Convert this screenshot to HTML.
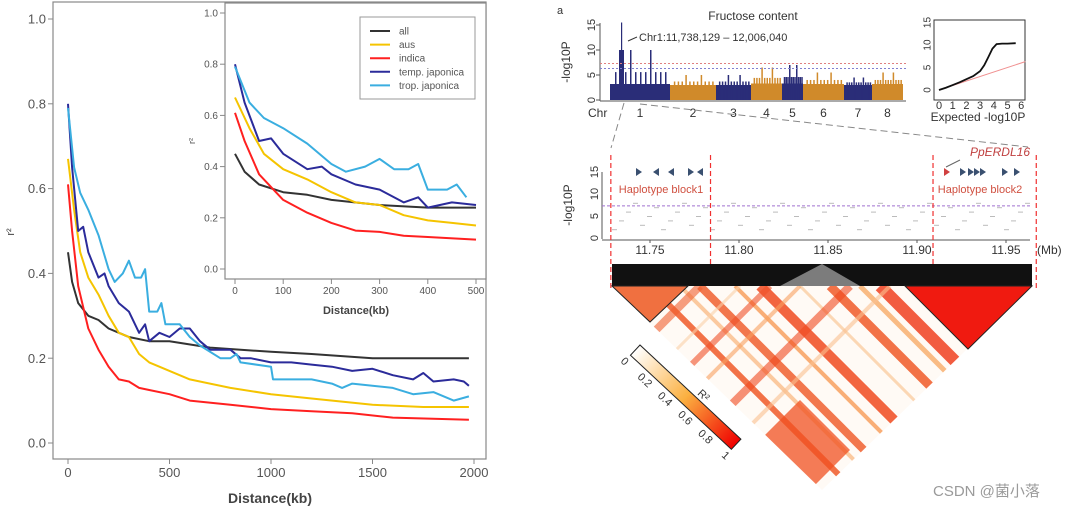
<!DOCTYPE html>
<html><head><meta charset="utf-8"><style>
html,body{margin:0;padding:0;background:#fff;width:1080px;height:507px;overflow:hidden}
svg{display:block;overflow:hidden;font-family:"Liberation Sans","Noto Sans CJK SC",sans-serif}
</style></head><body>
<svg id="fig" width="1080" height="507" viewBox="0 0 1080 507">
<defs>
<clipPath id="triclip"><polygon points="612,286 1032,286 822,490"/></clipPath>
<linearGradient id="ldg"><stop offset="0" stop-color="#fff"/><stop offset="0.5" stop-color="#fbb040"/><stop offset="1" stop-color="#f00000"/></linearGradient>
</defs>
<g id="left"></g>
<g id="right"></g>
<text x="933" y="496" font-size="15" fill="#9a9a9a">CSDN @菌小落</text>
</svg>
<script>
// ---- LD decay data ----
const seriesNames = ["all","aus","indica","temp. japonica","trop. japonica"];
const seriesColors = ["#333333","#f5c400","#ff2020","#2b2b9a","#3aaee0"];
const allX = [0,20,50,100,150,200,300,400,500,700,1000,1200,1500,1750,1975];
const allY = [0.45,0.38,0.33,0.30,0.29,0.27,0.25,0.24,0.24,0.225,0.215,0.21,0.20,0.20,0.20];
const ausX = [0,30,60,100,150,200,250,300,350,400,450,500,600,800,1000,1200,1500,1750,1975];
const ausY = [0.67,0.55,0.45,0.39,0.35,0.30,0.26,0.25,0.21,0.19,0.18,0.17,0.15,0.13,0.115,0.105,0.09,0.085,0.085];
const indX = [0,20,50,100,150,200,250,300,350,400,500,600,800,1000,1200,1400,1600,1975];
const indY = [0.61,0.50,0.37,0.27,0.22,0.18,0.15,0.145,0.13,0.125,0.115,0.10,0.09,0.08,0.075,0.07,0.06,0.055];
const tempX = [0,20,50,75,100,150,180,200,250,300,350,380,400,450,500,550,600,650,700,800,850,900,1000,1100,1200,1300,1400,1500,1600,1700,1750,1800,1900,1950,1975];
const tempY = [0.80,0.65,0.50,0.51,0.45,0.39,0.40,0.37,0.33,0.31,0.26,0.28,0.24,0.26,0.25,0.27,0.27,0.24,0.22,0.22,0.20,0.20,0.19,0.19,0.185,0.18,0.17,0.175,0.16,0.15,0.165,0.145,0.15,0.145,0.135];
const tropX = [0,30,60,100,150,200,230,270,300,330,360,380,400,440,460,480,550,600,650,750,800,830,850,1000,1010,1200,1300,1350,1400,1600,1700,1800,1900,1975];
const tropY = [0.79,0.65,0.59,0.55,0.49,0.41,0.38,0.40,0.43,0.39,0.39,0.41,0.31,0.31,0.33,0.28,0.28,0.25,0.23,0.20,0.20,0.21,0.19,0.18,0.15,0.15,0.14,0.13,0.14,0.13,0.115,0.12,0.10,0.11];
const mainXTicks = [0,500,1000,1500,2000];
const yTicks = [0.0,0.2,0.4,0.6,0.8,1.0];
const insetXTicks = [0,100,200,300,400,500];

// ---- GWAS data ----
const chrLabels = ["1","2","3","4","5","6","7","8"];
const chrWidthFrac = [60,46,35,31,21,41,28,31];
const chrBase = [3.2,3.0,3.0,3.3,3.3,3.2,3.0,3.2];
const chrPeak = [10,5,5,6.5,7,5.5,4.5,5.5];
const qqExp = [0,0.5,1,1.5,2,2.5,3,3.3,3.6,3.9,4.2,4.6,5,5.6];
const qqObs = [0,0.5,1.1,1.7,2.4,3.1,4.2,5.5,7.3,9.2,10.2,10.3,10.3,10.4];
const regTicks = [11.75,11.80,11.85,11.90,11.95];
const blockEdges = [11.728,11.784,11.909,11.967];
const ldScale = [0,0.2,0.4,0.6,0.8,1];

const NS="http://www.w3.org/2000/svg";
function mk(parent,tag,attrs,text){const e=document.createElementNS(NS,tag);for(const k in attrs)e.setAttribute(k,attrs[k]);if(text!==undefined)e.textContent=text;parent.appendChild(e);return e;}
const L=document.getElementById('left');

function drawPanel(g,box,xmin,xmax,xpix,ypix,xticks,fs,xmaxData,name){
  const sx=v=>xpix[0]+(v-xmin)/(xmax-xmin)*(xpix[1]-xpix[0]);
  const sy=v=>ypix[0]+v*(ypix[1]-ypix[0]);
  const r=mk(g,'rect',{x:box[0],y:box[1],width:box[2]-box[0],height:box[3]-box[1],fill:'#fff',stroke:'#888','stroke-width':1.2});
  
  
  yTicks.forEach(t=>{
    mk(g,'line',{x1:box[0]-5,x2:box[0],y1:sy(t),y2:sy(t),stroke:'#888'});
    const tx=mk(g,'text',{x:box[0]-7,y:sy(t)+fs*0.35,'font-size':fs,'text-anchor':'end',fill:'#555'},t.toFixed(1));
    
    
  });
  xticks.forEach(t=>{
    mk(g,'line',{x1:sx(t),x2:sx(t),y1:box[3],y2:box[3]+5,stroke:'#888'});
    const tx=mk(g,'text',{x:sx(t),y:box[3]+5+fs,'font-size':fs,'text-anchor':'middle',fill:'#555'},t);
    
    
  });
  const xs=[allX,ausX,indX,tempX,tropX], ys=[allY,ausY,indY,tempY,tropY];
  xs.forEach((X,i)=>{
    let pts=[];
    for(let j=0;j<X.length;j++){ if(X[j]<=xmaxData) pts.push(sx(X[j]).toFixed(1)+','+sy(ys[i][j]).toFixed(1)); }
    const p=mk(g,'polyline',{points:pts.join(' '),fill:'none',stroke:seriesColors[i],'stroke-width':2,'stroke-linejoin':'round'});
    
    
  });
}
drawPanel(L,[53,2,486,459],0,2000,[68,474],[443,19],mainXTicks,13,2000,'main');
let t=mk(L,'text',{x:270,y:503,'font-size':14,'font-weight':'bold','text-anchor':'middle',fill:'#444'},'Distance(kb)');

t=mk(L,'text',{x:14,y:232,'font-size':11,'text-anchor':'middle',fill:'#444',transform:'rotate(-90 14 232)'},'r²');

const IG=mk(L,'g',{});

drawPanel(IG,[225,3,486,279],0,500,[235,476],[269,13],insetXTicks,10,500,'inset');
t=mk(IG,'text',{x:356,y:314,'font-size':11,'font-weight':'bold','text-anchor':'middle',fill:'#444'},'Distance(kb)');

t=mk(IG,'text',{x:195,y:141,'font-size':9,'text-anchor':'middle',fill:'#444',transform:'rotate(-90 195 141)'},'r²');

const LG=mk(IG,'g',{});

mk(LG,'rect',{x:360,y:17,width:115,height:82,fill:'#fff',stroke:'#999'});
seriesNames.forEach((n,i)=>{
  const y=31+i*13.6;
  const e=mk(LG,'g',{});
  
  
  mk(e,'line',{x1:370,x2:390,y1:y,y2:y,stroke:seriesColors[i],'stroke-width':2});
  mk(e,'text',{x:399,y:y+3.5,'font-size':10,fill:'#555'},n);
});

// ---- Right panel ----
const R=document.getElementById('right');
t=mk(R,'text',{x:557,y:14,'font-size':11,fill:'#333'},'a');

t=mk(R,'text',{x:753,y:20,'font-size':12,'text-anchor':'middle',fill:'#333'},'Fructose content');

const M=mk(R,'g',{});
const my=v=>100-v*5;
mk(M,'line',{x1:600,x2:600,y1:23,y2:101,stroke:'#555'});
mk(M,'line',{x1:600,x2:906,y1:101,y2:101,stroke:'#555'});
[0,5,10,15].forEach(v=>{mk(M,'line',{x1:596,x2:600,y1:my(v),y2:my(v),stroke:'#555'});
 mk(M,'text',{x:591,y:my(v),'font-size':11,'text-anchor':'middle',fill:'#333',transform:`rotate(-90 591 ${my(v)})`,dy:'0.35em'},v);});
t=mk(M,'text',{x:570,y:62,'font-size':12,'text-anchor':'middle',fill:'#333',transform:'rotate(-90 570 62)'},'-log10P');

const totalW=chrWidthFrac.reduce((a,b)=>a+b,0);
let cx=610;
chrLabels.forEach((c,i)=>{
  const w=chrWidthFrac[i]/totalW*293;
  const col=i%2?'#d08a2a':'#2a2d78';
  const b=mk(M,'rect',{x:cx,y:my(chrBase[i]),width:w,height:my(0)-my(chrBase[i]),fill:col});
  
  for(let k=1;k<12;k++){const px=cx+w*k/12;const h=chrBase[i]+(chrPeak[i]-chrBase[i])*((k%4)?0.35:1);
    mk(M,'rect',{x:px,y:my(h),width:1.5,height:my(0)-my(h),fill:col});}
  mk(M,'text',{x:cx+w/2,y:117,'font-size':12,'text-anchor':'middle',fill:'#333'},c);
  cx+=w;
});
mk(M,'rect',{x:621,y:my(15.5),width:1.2,height:my(0)-my(15.5),fill:'#2a2d78'});
mk(M,'rect',{x:619,y:my(10),width:5,height:my(0)-my(10),fill:'#2a2d78'});
mk(M,'text',{x:588,y:117,'font-size':12,fill:'#333'},'Chr');
mk(M,'line',{x1:600,x2:906,y1:my(7.3),y2:my(7.3),stroke:'#e08080','stroke-dasharray':'2,2'});
mk(M,'line',{x1:600,x2:906,y1:my(6.3),y2:my(6.3),stroke:'#8080d0','stroke-dasharray':'2,2'});
mk(M,'line',{x1:637,x2:628,y1:37,y2:41,stroke:'#333'});
t=mk(M,'text',{x:639,y:41,'font-size':11,fill:'#333'},'Chr1:11,738,129 – 12,006,040');

const Q=mk(R,'g',{});
const qx=v=>939+v*13.7, qy=v=>90-v*4.5;
mk(Q,'rect',{x:934,y:20,width:91,height:80,fill:'#fff',stroke:'#333'});
[0,5,10,15].forEach(v=>mk(Q,'text',{x:927,y:qy(v),'font-size':10,'text-anchor':'middle',fill:'#333',transform:`rotate(-90 927 ${qy(v)})`,dy:'0.35em'},v));
[0,1,2,3,4,5,6].forEach(v=>mk(Q,'text',{x:qx(v),y:109,'font-size':11,'text-anchor':'middle',fill:'#333'},v));
mk(Q,'line',{x1:qx(0),y1:qy(0),x2:qx(6.3),y2:qy(6.3),stroke:'#f09090','stroke-width':1});
t=mk(Q,'polyline',{points:qqExp.map((e,i)=>qx(e)+','+qy(qqObs[i])).join(' '),fill:'none',stroke:'#111','stroke-width':1.8});

mk(Q,'text',{x:978,y:121,'font-size':12,'text-anchor':'middle',fill:'#333'},'Expected -log10P');
mk(R,'line',{x1:624,y1:103,x2:611,y2:148,stroke:'#888','stroke-dasharray':'7,4'});
mk(R,'line',{x1:640,y1:104,x2:1028,y2:147,stroke:'#888','stroke-dasharray':'7,4'});
const G=mk(R,'g',{});
const gx=v=>650+(v-11.75)/0.05*89, gy=v=>238-v*4.4;
mk(G,'line',{x1:602,x2:602,y1:172,y2:239,stroke:'#555'});
mk(G,'line',{x1:602,x2:1030,y1:240,y2:240,stroke:'#555'});
[0,5,10,15].forEach(v=>mk(G,'text',{x:594,y:gy(v),'font-size':11,'text-anchor':'middle',fill:'#333',transform:`rotate(-90 594 ${gy(v)})`,dy:'0.35em'},v));
mk(G,'text',{x:572,y:205,'font-size':12,'text-anchor':'middle',fill:'#333',transform:'rotate(-90 572 205)'},'-log10P');
regTicks.forEach(v=>{mk(G,'line',{x1:gx(v),x2:gx(v),y1:240,y2:243,stroke:'#555'});mk(G,'text',{x:gx(v),y:254,'font-size':12,'text-anchor':'middle',fill:'#333'},v.toFixed(2));});
mk(G,'text',{x:1037,y:254,'font-size':12,fill:'#333'},'(Mb)');
mk(G,'line',{x1:602,x2:1030,y1:gy(7.3),y2:gy(7.3),stroke:'#a070d0','stroke-dasharray':'3,2'});
for(let i=0;i<60;i++){const xx=612+i*7;mk(G,'rect',{x:xx,y:gy(2+(i*37%7)),width:5,height:1,fill:'#bbb'});}
blockEdges.forEach(v=>mk(G,'line',{x1:gx(v),x2:gx(v),y1:155,y2:290,stroke:'#f03030','stroke-dasharray':'5,3','stroke-width':1.2}));
t=mk(G,'text',{x:661,y:193,'font-size':11,'text-anchor':'middle',fill:'#d05040'},'Haplotype block1');

t=mk(G,'text',{x:980,y:193,'font-size':11,'text-anchor':'middle',fill:'#d05040'},'Haplotype block2');

t=mk(G,'text',{x:1030,y:156,'font-size':12,'font-style':'italic','text-anchor':'end',fill:'#c04040'},'PpERDL16');

mk(G,'line',{x1:960,y1:160,x2:946,y2:167,stroke:'#666'});
[[636,1],[653,-1],[668,-1],[688,1],[697,-1],[944,1],[960,1],[968,1],[974,1],[980,1],[1002,1],[1014,1]].forEach(([x,d],i)=>{
  const c=i===5?'#d04040':'#3a5070';
  mk(G,'polygon',{points:d>0?`${x},168 ${x+6},172 ${x},176`:`${x+6},168 ${x},172 ${x+6},176`,fill:c});
});
const D=mk(R,'g',{});
mk(D,'rect',{x:612,y:264,width:420,height:22,fill:'#111'});
mk(D,'polygon',{points:'780,286 822,264 860,286',fill:'#fff',opacity:0.45});
mk(D,'polygon',{points:'612,286 1032,286 822,490',fill:'#fffaf5'});
const S=mk(D,'g',{'clip-path':'url(#triclip)'});
const stripeA=[[650,'#f05a28',6],[680,'#fbc090',4],[700,'#f06030',8],[735,'#f8a060',4],[760,'#f04a20',10],[800,'#fbd0a8',3],[830,'#f05a28',9],[860,'#f8b070',5],[880,'#f04020',12],[920,'#fcd8b8',3]];
stripeA.forEach(([s,c,w])=>mk(S,'line',{x1:s,y1:286,x2:s+200,y2:486,stroke:c,'stroke-width':w,opacity:0.85}));
const stripeB=[[700,'#f06030',8],[740,'#fbd0a8',3],[770,'#f05028',6],[800,'#f8a060',4],[850,'#f04a20',8],[890,'#fbc090',4]];
stripeB.forEach(([s,c,w])=>mk(S,'line',{x1:s,y1:286,x2:s-180,y2:466,stroke:c,'stroke-width':w,opacity:0.6}));
mk(S,'polygon',{points:'760,440 800,400 850,450 810,490',fill:'#f05020',opacity:0.75});
mk(D,'polygon',{points:'612,286 688,286 650,322',fill:'#f07040',stroke:'#222'});
mk(D,'polygon',{points:'905,286 1032,286 968,349',fill:'#f01a10',stroke:'#222'});
const C=mk(R,'g',{transform:'translate(640,345) rotate(43)'});

mk(C,'rect',{x:0,y:0,width:138,height:14,fill:'url(#ldg)',stroke:'#222'});
ldScale.forEach(v=>mk(C,'text',{x:v*138,y:26,'font-size':11,'text-anchor':'middle',fill:'#333'},v));
mk(C,'text',{x:75,y:-3,'font-size':11,fill:'#333'},'R²');
</script>
</body></html>
